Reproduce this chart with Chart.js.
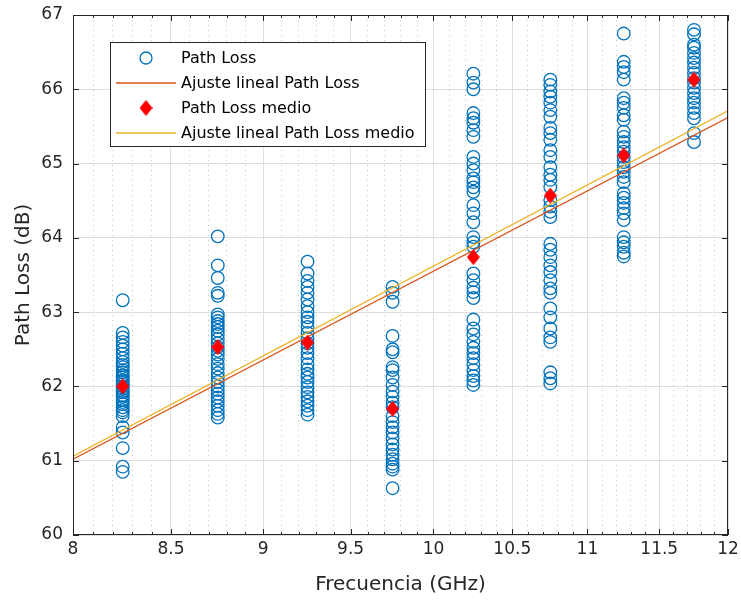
<!DOCTYPE html>
<html>
<head>
<meta charset="utf-8">
<script src="https://cdn.jsdelivr.net/npm/chart.js@4/dist/chart.umd.min.js"></script>
<style>
body { margin: 0; background: #fff; }
#wrap { width: 741px; height: 603px; }
</style>
</head>
<body>
<div id="wrap"><canvas id="plChart" width="741" height="603"></canvas></div>
<script>
// Frecuencias medidas (GHz)
const frecuencias = [8.25, 8.75, 9.25, 9.75, 10.25, 10.75, 11.25, 11.75];

// Path Loss medido en cada frecuencia (dB)
const pl825 = [63.16, 62.72, 62.66, 62.6, 62.55, 62.5, 62.44, 62.38, 62.33, 62.29, 62.26, 62.22, 62.19, 62.15, 62.12, 62.08, 62.06, 62.03, 62.0, 61.97, 61.94, 61.92, 61.88, 61.86, 61.82, 61.79, 61.76, 61.72, 61.68, 61.65, 61.6, 61.45, 61.38, 61.17, 60.92, 60.85];
const pl875 = [64.02, 63.63, 63.46, 63.26, 63.22, 62.97, 62.93, 62.88, 62.84, 62.8, 62.75, 62.7, 62.64, 62.58, 62.53, 62.48, 62.43, 62.37, 62.3, 62.24, 62.18, 62.12, 62.06, 62.0, 61.95, 61.9, 61.85, 61.8, 61.74, 61.68, 61.63, 61.58];
const pl925 = [63.68, 63.52, 63.42, 63.34, 63.26, 63.17, 63.08, 63.0, 62.93, 62.87, 62.8, 62.72, 62.65, 62.58, 62.52, 62.45, 62.38, 62.3, 62.23, 62.17, 62.12, 62.06, 61.99, 61.92, 61.86, 61.8, 61.74, 61.68, 61.62];
const pl975 = [63.34, 63.26, 63.14, 62.68, 62.5, 62.46, 62.26, 62.22, 62.12, 62.02, 61.93, 61.86, 61.78, 61.72, 61.6, 61.52, 61.45, 61.38, 61.3, 61.22, 61.15, 61.08, 61.02, 60.96, 60.92, 60.88, 60.63];
const pl1025 = [66.21, 66.09, 66.0, 65.68, 65.61, 65.55, 65.45, 65.36, 65.09, 65.0, 64.91, 64.8, 64.75, 64.68, 64.62, 64.44, 64.33, 64.21, 64.01, 63.94, 63.88, 63.52, 63.43, 63.33, 63.27, 63.19, 62.9, 62.78, 62.7, 62.6, 62.52, 62.45, 62.38, 62.3, 62.22, 62.14, 62.08, 62.02];
const pl1075 = [66.13, 66.06, 65.97, 65.9, 65.82, 65.72, 65.63, 65.48, 65.41, 65.32, 65.18, 65.09, 64.95, 64.85, 64.78, 64.68, 64.51, 64.42, 64.35, 64.28, 63.92, 63.84, 63.74, 63.63, 63.54, 63.43, 63.32, 63.26, 63.05, 62.93, 62.78, 62.66, 62.6, 62.19, 62.11, 62.04];
const pl1125 = [66.75, 66.37, 66.3, 66.23, 66.13, 65.88, 65.82, 65.75, 65.65, 65.59, 65.43, 65.36, 65.29, 65.22, 65.16, 65.09, 65.02, 64.95, 64.89, 64.82, 64.75, 64.6, 64.54, 64.47, 64.4, 64.33, 64.24, 64.01, 63.94, 63.88, 63.8, 63.75];
const pl1175 = [66.8, 66.74, 66.6, 66.56, 66.49, 66.42, 66.36, 66.29, 66.22, 66.15, 66.09, 66.02, 65.95, 65.88, 65.82, 65.75, 65.68, 65.61, 65.41, 65.29];

// Path Loss medio por frecuencia (dB)
const pathLossMedio = [62.0, 62.53, 62.59, 61.7, 63.74, 64.57, 65.11, 66.13];

// Ajustes lineales, extremos en 8 y 12 GHz
const ajusteX = [8, 12];
const ajustePL = [61.02, 65.62];
const ajusteMedio = [61.06, 65.71];

// Ticks
const xTicksMayores = [8, 8.5, 9, 9.5, 10, 10.5, 11, 11.5, 12];
const yTicks = [60, 61, 62, 63, 64, 65, 66, 67];

const medidas = [pl825, pl875, pl925, pl975, pl1025, pl1075, pl1125, pl1175];
const puntosPL = [];
medidas.forEach((col, i) => col.forEach(v => puntosPL.push({ x: frecuencias[i], y: v })));

// ticks menores del eje log (cada 0.1 GHz)
const xTicks = [];
for (let k = 80; k <= 120; k++) xTicks.push(k / 10);
const esMayor = v => xTicksMayores.some(m => Math.abs(m - v) < 1e-6);

// marcador rombo estilo MATLAB
const rombo = document.createElement('canvas');
rombo.width = 13; rombo.height = 16;
(function () {
    const c = rombo.getContext('2d');
    c.fillStyle = '#ff0000';
    c.beginPath();
    c.moveTo(6.5, 0); c.lineTo(13, 8); c.lineTo(6.5, 16); c.lineTo(0, 8);
    c.closePath(); c.fill();
})();

const colorEje = '#262626';
const fuente = '"DejaVu Sans", Verdana, sans-serif';

const leyenda = [
    { texto: 'Path Loss', tipo: 'circulo', color: '#0072BD' },
    { texto: 'Ajuste lineal Path Loss', tipo: 'linea', color: '#D95319' },
    { texto: 'Path Loss medio', tipo: 'rombo', color: '#ff0000' },
    { texto: 'Ajuste lineal Path Loss medio', tipo: 'linea', color: '#EDB120' }
];

const marcoYLeyenda = {
    id: 'marcoYLeyenda',
    afterDatasetsDraw(chart) {
        const { ctx, chartArea: a, scales: { x, y } } = chart;
        ctx.save();
        ctx.strokeStyle = colorEje;
        ctx.lineWidth = 1;
        ctx.beginPath();
        x.ticks.forEach(t => {
            const px = Math.round(x.getPixelForValue(t.value)) + 0.5;
            const len = esMayor(t.value) ? 6 : 3;
            ctx.moveTo(px, a.bottom); ctx.lineTo(px, a.bottom - len);
            ctx.moveTo(px, a.top); ctx.lineTo(px, a.top + len);
        });
        y.ticks.forEach(t => {
            const py = Math.round(y.getPixelForValue(t.value)) + 0.5;
            ctx.moveTo(a.left, py); ctx.lineTo(a.left + 6, py);
            ctx.moveTo(a.right, py); ctx.lineTo(a.right - 6, py);
        });
        ctx.stroke();
        ctx.strokeRect(Math.round(a.left) + 0.5, Math.round(a.top) + 0.5,
            Math.round(a.right - a.left) - 1, Math.round(a.bottom - a.top) - 1);

        // leyenda
        const bx = 110.5, by = 42.5, bw = 315, bh = 104;
        ctx.fillStyle = '#fff';
        ctx.fillRect(bx, by, bw, bh);
        ctx.strokeStyle = colorEje;
        ctx.strokeRect(bx, by, bw, bh);
        ctx.font = '16px ' + fuente;
        ctx.textBaseline = 'middle';
        leyenda.forEach((e, i) => {
            const ly = 58 + i * 25;
            if (e.tipo === 'linea') {
                ctx.strokeStyle = e.color; ctx.lineWidth = 1.3;
                ctx.beginPath(); ctx.moveTo(116, ly); ctx.lineTo(176, ly); ctx.stroke();
            } else if (e.tipo === 'circulo') {
                ctx.strokeStyle = e.color; ctx.lineWidth = 1.3;
                ctx.beginPath(); ctx.arc(146, ly, 6, 0, Math.PI * 2); ctx.stroke();
            } else {
                ctx.drawImage(rombo, 146 - 6.5, ly - 8);
            }
            ctx.fillStyle = '#000';
            ctx.fillText(e.texto, 181, ly + 1);
        });
        ctx.restore();
    }
};

new Chart(document.getElementById('plChart'), {
    type: 'scatter',
    data: {
        datasets: [{
            label: 'Path Loss',
            data: puntosPL,
            pointStyle: 'circle',
            pointRadius: 6.3,
            borderColor: '#0072BD',
            backgroundColor: 'rgba(0,0,0,0)',
            borderWidth: 1.3,
            order: 4
        }, {
            label: 'Ajuste lineal Path Loss',
            data: ajusteX.map((v, i) => ({ x: v, y: ajustePL[i] })),
            showLine: true,
            pointRadius: 0,
            borderColor: '#D95319',
            borderWidth: 1.3,
            order: 3
        }, {
            label: 'Path Loss medio',
            data: frecuencias.map((v, i) => ({ x: v, y: pathLossMedio[i] })),
            pointStyle: rombo,
            pointRadius: 7,
            order: 2
        }, {
            label: 'Ajuste lineal Path Loss medio',
            data: ajusteX.map((v, i) => ({ x: v, y: ajusteMedio[i] })),
            showLine: true,
            pointRadius: 0,
            borderColor: '#EDB120',
            borderWidth: 1.3,
            order: 1
        }]
    },
    options: {
        responsive: false,
        animation: false,
        events: [],
        layout: { padding: { left: 0, right: 13, top: 15, bottom: 0 } },
        plugins: {
            legend: { display: false },
            tooltip: { enabled: false }
        },
        scales: {
            x: {
                type: 'logarithmic',
                min: 8,
                max: 12,
                afterBuildTicks: s => { s.ticks = xTicks.map(v => ({ value: v })); },
                afterFit: s => { s.height = 68; s.paddingLeft = 0; s.paddingRight = 0; },
                ticks: {
                    autoSkip: false,
                    maxRotation: 0,
                    padding: 4,
                    color: colorEje,
                    font: { family: fuente, size: 17 },
                    callback: v => esMayor(v) ? String(Math.round(v * 10) / 10) : ''
                },
                grid: {
                    drawTicks: false,
                    color: c => esMayor(c.tick.value) ? '#dedede' : '#c6c6c6',
                    lineWidth: 1
                },
                border: {
                    display: false,
                    dash: c => (c.tick && !esMayor(c.tick.value)) ? [1, 4] : []
                },
                title: {
                    display: true,
                    text: 'Frecuencia (GHz)',
                    color: colorEje,
                    font: { family: fuente, size: 20 },
                    padding: { bottom: 6 }
                }
            },
            y: {
                min: 60,
                max: 67,
                afterBuildTicks: s => { s.ticks = yTicks.map(v => ({ value: v })); },
                afterFit: s => { s.width = 73; s.paddingTop = 0; s.paddingBottom = 0; },
                ticks: {
                    padding: 10,
                    color: colorEje,
                    font: { family: fuente, size: 17 }
                },
                grid: { drawTicks: false, color: '#dedede', lineWidth: 1 },
                border: { display: false },
                title: {
                    display: true,
                    text: 'Path Loss (dB)',
                    color: colorEje,
                    font: { family: fuente, size: 20 },
                    padding: { top: 12 }
                }
            }
        }
    },
    plugins: [marcoYLeyenda]
});
</script>
</body>
</html>
